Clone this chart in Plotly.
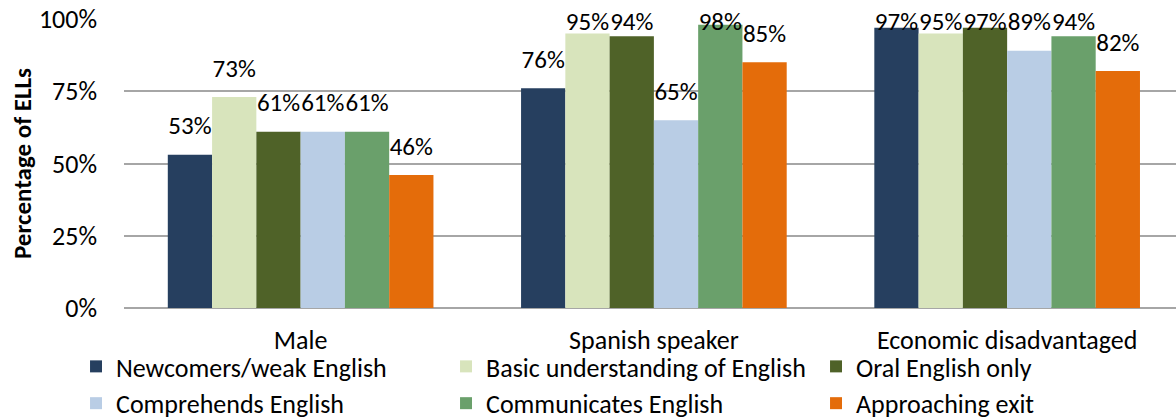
import plotly.graph_objects as go

categories = ["Male", "Spanish speaker", "Economic disadvantaged"]
series_names = [
    "Newcomers/weak English",
    "Basic understanding of English",
    "Oral English only",
    "Comprehends English",
    "Communicates English",
    "Approaching exit",
]
newcomers = [0.53, 0.76, 0.97]
basic = [0.73, 0.95, 0.95]
oral = [0.61, 0.94, 0.97]
comprehends = [0.61, 0.65, 0.89]
communicates = [0.61, 0.98, 0.94]
approaching = [0.46, 0.85, 0.82]
series_values = [newcomers, basic, oral, comprehends, communicates, approaching]
colors = ["#263f5f", "#d8e4bc", "#4f6228", "#b9cde5", "#6aa06b", "#e46c0a"]
y_ticks = [0, 0.25, 0.5, 0.75, 1.0]
y_tick_labels = ["0%", "25%", "50%", "75%", "100%"]

FONT = "Carlito, 'Liberation Sans Narrow', 'Open Sans', sans-serif"

fig = go.Figure()
for name, vals, col in zip(series_names, series_values, colors):
    fig.add_trace(go.Bar(
        x=categories, y=vals, name=name, marker_color=col,
        marker_line_width=0, offsetgroup=name,
    ))
for name, vals in zip(series_names, series_values):
    fig.add_trace(go.Scatter(
        x=categories, y=[min(v + 0.092, 0.982) for v in vals],
        text=[f"{round(v*100)}%" for v in vals], mode="text",
        textposition="middle center", offsetgroup=name,
        textfont=dict(family=FONT, size=25, color="#000000"),
        showlegend=False, cliponaxis=False, hoverinfo="skip",
    ))

fig.update_layout(
    width=1176, height=420,
    margin=dict(l=124, r=0, t=19, b=112, autoexpand=False),
    barmode="group", bargap=0.248, bargroupgap=0,
    scattermode="group", scattergap=0.248,
    plot_bgcolor="white", paper_bgcolor="white",
    font=dict(family=FONT, size=26, color="#000000"),
    legend=dict(
        orientation="h", x=-0.0456, xanchor="left", y=-0.121, yanchor="top",
        entrywidth=325, entrywidthmode="pixels", bgcolor="rgba(0,0,0,0)",
        font=dict(family=FONT, size=26, color="#000000"),
        itemwidth=30, tracegroupgap=0, traceorder="normal",
    ),
)
fig.update_xaxes(showgrid=False, showline=False, ticks="", tickfont=dict(size=26),
                 ticklabelstandoff=14, range=[-0.5, 2.478])
fig.update_yaxes(
    range=[0, 1], tickvals=y_ticks, ticktext=y_tick_labels,
    showgrid=True, gridcolor="#a6a6a6", gridwidth=1.5,
    zeroline=True, zerolinecolor="#a6a6a6", zerolinewidth=1.5,
    showline=False, ticks="", ticklabelstandoff=26, tickfont=dict(size=26),
    ticklabeloverflow="allow",
    title=dict(text="<b>Percentage of ELLs</b>", font=dict(size=25), standoff=0),
)
fig.write_html(
    "out.html",
    config={"displayModeBar": False},
    post_script="document.body.style.margin='0';document.body.style.overflow='hidden';",
)
